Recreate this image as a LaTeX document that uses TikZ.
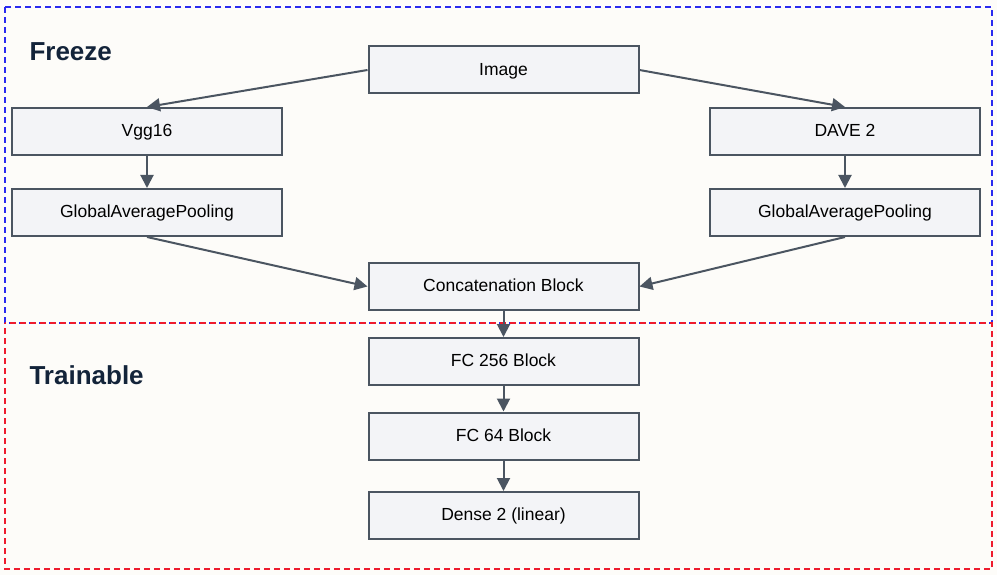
\documentclass[tikz,border=0pt]{standalone}
\usepackage{fontspec}
\setmainfont{Liberation Sans}
\usepackage{tikz}
\usetikzlibrary{arrows.meta,positioning}
\definecolor{pagebg}{HTML}{FDFCF9}
\definecolor{boxfill}{HTML}{F3F4F7}
\definecolor{boxline}{HTML}{4B5561}
\definecolor{headtxt}{HTML}{13243A}
\definecolor{frzblue}{HTML}{2A2AF0}
\definecolor{trnred}{HTML}{EE1C2E}

\begin{document}
\begin{tikzpicture}[x=1pt,y=-1pt,
  block/.style={draw=boxline,fill=boxfill,line width=2pt,minimum width=270pt,minimum height=47pt,inner sep=0pt,text depth=2pt,font=\fontsize{17.5}{19}\selectfont},
  flow/.style={draw=boxline,line width=2pt,-{Triangle[length=13pt,width=13pt]}},
  region/.style={line width=1.4pt,dash pattern=on 6pt off 4pt},
  head/.style={anchor=base west,text=headtxt,font=\fontsize{26}{30}\selectfont\bfseries}]
\useasboundingbox[fill=pagebg] (0,0) rectangle (997,575);
% Regions
\draw[region,frzblue] (5,7) rectangle (992,323);
\draw[region,trnred,dash phase=5pt] (5,323) rectangle (992,569);
\node[head] (freeze) at (26,61) {Freeze};
\node[head] (trainable) at (26,384) {Trainable};
% Frozen feature extractors
\node[block] (image) at (503.5,70) {Image};
\node[block] (vgg) at (147,131.5) {Vgg16};
\node[block] (dave) at (845,131.5) {DAVE 2};
\node[block] (gapl) at (147,212.5) {GlobalAveragePooling};
\node[block] (gapr) at (845,212.5) {GlobalAveragePooling};
\node[block] (concat) at (503.5,286.5) {Concatenation Block};
% Trainable head
\node[block] (fc256) at (503.5,361.5) {FC 256 Block};
\node[block] (fc64) at (503.5,436) {FC 64 Block};
\node[block] (dense) at (503.5,515.5) {Dense 2 (linear)};
% Connectors
\draw[flow] (image.west) -- (vgg.north);
\draw[flow] (image.east) -- (dave.north);
\draw[flow] (vgg) -- (gapl);
\draw[flow] (dave) -- (gapr);
\draw[flow] (gapl.south) -- (concat.west);
\draw[flow] (gapr.south) -- (concat.east);
\draw[flow] (concat) -- (fc256);
\draw[flow] (fc256) -- (fc64);
\draw[flow] (fc64) -- (dense);
\end{tikzpicture}
\end{document}
